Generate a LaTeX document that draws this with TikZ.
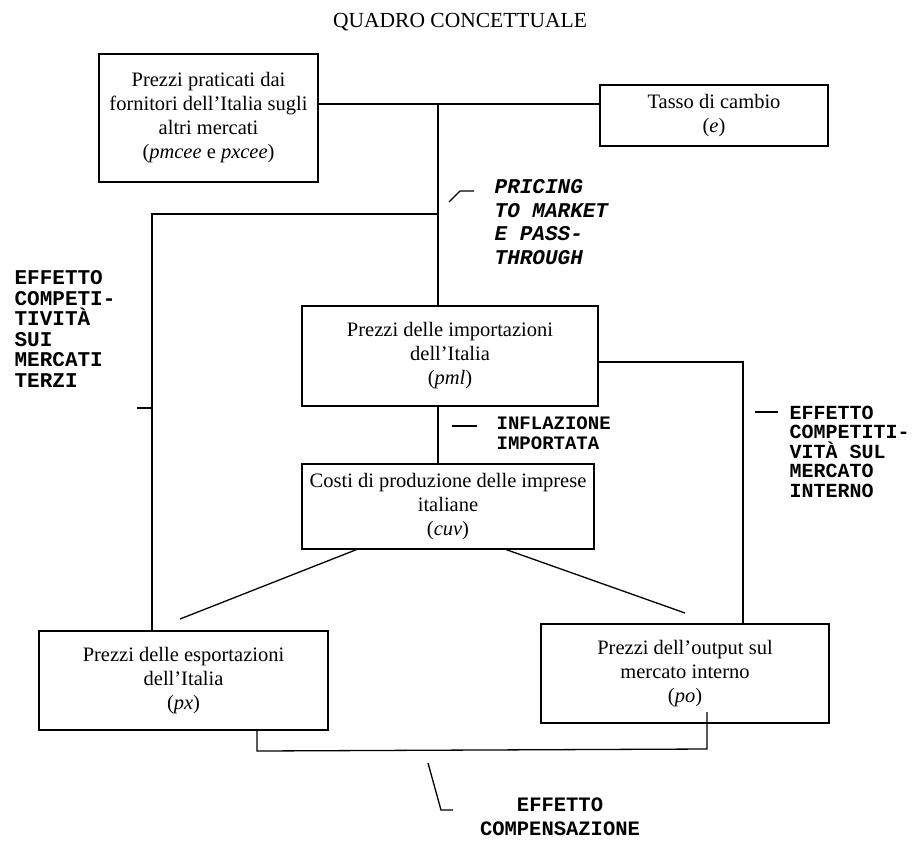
\documentclass[tikz,border=0pt]{standalone}
\usepackage{fontspec}
\setmainfont{Liberation Serif}
\newfontfamily\monof{Liberation Mono}
\usetikzlibrary{calc}
\begin{document}
\begin{tikzpicture}[x=1pt,y=-1pt,line width=1.3pt,
  box/.style={draw,inner sep=0pt,align=center,font=\fontsize{20.5}{24}\selectfont},
  lab/.style={inner sep=0pt,anchor=north west,align=left},
  conn/.style={line width=1.3pt}]
\useasboundingbox (0,0) rectangle (912,841);
% title
\node[font=\fontsize{21.5}{24}\selectfont] (title) at (460,22) {QUADRO CONCETTUALE};
% boxes
\node[box,minimum width=219pt,minimum height=128pt] (A) at (208.5,118)
  {Prezzi praticati dai\\fornitori dell'Italia sugli\\altri mercati\\(\textit{pmcee} e \textit{pxcee})};
\node[box,minimum width=228pt,minimum height=61pt] (E) at (714,115.5)
  {Tasso di cambio\\(\textit{e})};
\node[box,minimum width=296pt,minimum height=100pt] (pml) at (450,356)
  {Prezzi delle importazioni\\dell'Italia\\(\textit{pml})};
\node[box,minimum width=292pt,minimum height=85pt] (cuv) at (448,506.5)
  {Costi di produzione delle imprese\\italiane\\(\textit{cuv})};
\node[box,minimum width=289pt,minimum height=99pt] (px) at (183.5,680.5)
  {Prezzi delle esportazioni\\dell'Italia\\(\textit{px})};
\node[box,minimum width=288pt,minimum height=99pt] (po) at (685,673.5)
  {Prezzi dell'output sul\\mercato interno\\(\textit{po})};
% junction coordinates
\coordinate (j1) at (438,104);
\coordinate (j2) at (438,214);
\coordinate (c2) at (152,214);
\coordinate (r1) at (743,362);
\coordinate (b1) at (257,751);
\coordinate (b2) at (707,749);
\coordinate (b3) at (707,712);
\coordinate (dl) at (180,619);
\coordinate (dr) at (685,613);
% connectors
\draw[conn] (A.east|-j1) -- (E.west|-j1);
\draw[conn] (j1) -- (j1|-pml.north);
\draw[conn] (j2) -- (c2) -- (c2|-px.north);
\draw[conn] (pml.south-|j1) -- (cuv.north-|j1);
\draw[conn] (pml.east|-r1) -- (r1) -- (r1|-po.north);
\draw[conn] ($(cuv.south west)+(55,0)$) -- (dl);
\draw[conn] ($(cuv.south west)+(205,0)$) -- (dr);
\draw[conn] (px.south-|b1) -- (b1) -- (b2) -- (b3);
% label ticks
\coordinate (tp1) at (449,202);
\coordinate (tp2) at (460,191);
\coordinate (tp3) at (474,191);
\draw[conn] (tp1) -- (tp2) -- (tp3);
\coordinate (tl1) at (137,408);
\draw[conn] (tl1) -- (tl1-|c2);
\coordinate (ti1) at (452,426);
\coordinate (ti2) at (477,426);
\draw[conn] (ti1) -- (ti2);
\coordinate (tr1) at (755,412);
\coordinate (tr2) at (778,412);
\draw[conn] (tr1) -- (tr2);
\coordinate (tc1) at (428,763);
\coordinate (tc2) at (441,810);
\coordinate (tc3) at (453,810);
\draw[conn] (tc1) -- (tc2) -- (tc3);
% labels
\node[lab,font=\monof\bfseries\itshape\fontsize{21}{23.5}\selectfont] (lp) at (494,179)
  {PRICING\\TO MARKET\\E PASS-\\THROUGH};
\node[lab,font=\monof\bfseries\fontsize{21}{20.5}\selectfont] (ll) at (14,270)
  {EFFETTO\\COMPETI-\\TIVITÀ\\SUI\\MERCATI\\TERZI};
\node[lab,font=\monof\bfseries\fontsize{19}{20}\selectfont] (li) at (496,416)
  {INFLAZIONE\\IMPORTATA};
\node[lab,font=\monof\bfseries\fontsize{20}{19.5}\selectfont] (lr) at (789,405)
  {EFFETTO\\COMPETITI-\\VITÀ SUL\\MERCATO\\INTERNO};
\node[inner sep=0pt,anchor=north,align=center,font=\monof\bfseries\fontsize{20.5}{24}\selectfont] (lc) at (560,797)
  {EFFETTO\\COMPENSAZIONE};
\end{tikzpicture}
\end{document}
